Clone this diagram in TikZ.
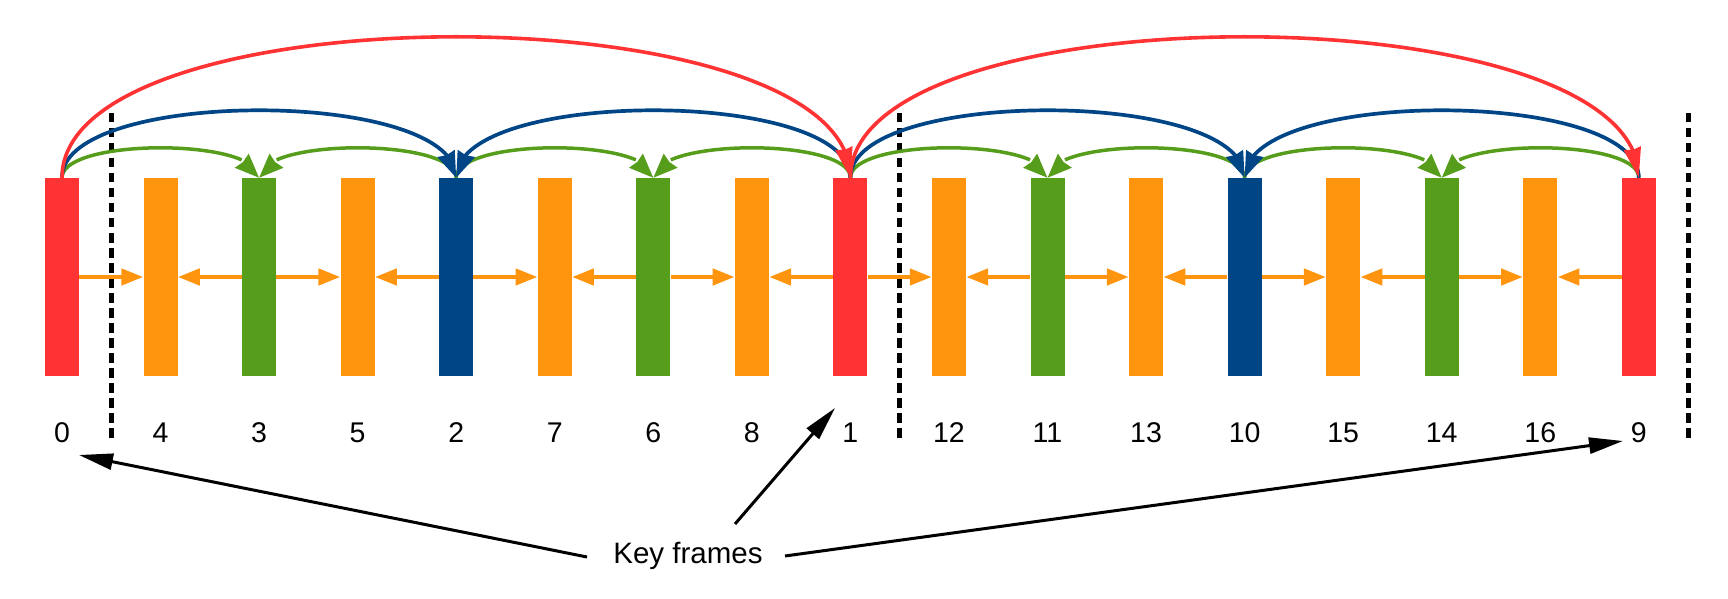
\documentclass[tikz,border=0pt]{standalone}
\usepackage{fontspec}
\setmainfont{Liberation Sans}
\usetikzlibrary{arrows.meta,bending,calc}
\definecolor{kred}{HTML}{FF3333}
\definecolor{korange}{HTML}{FF950E}
\definecolor{kgreen}{HTML}{579D1C}
\definecolor{kblue}{HTML}{004586}
\newcommand\kcurve[4]{\draw[#1] (f#2.north) .. controls ($(f#2.north)+(0,#4)$) and ($(f#3.north)+(0,#4)$) .. (f#3.north);}
\begin{document}
\begin{tikzpicture}[x=1pt,y=1pt,
  bar/.style={rectangle,draw=none,inner sep=0pt,minimum width=34pt,minimum height=198pt},
  lab/.style={inner sep=0pt,anchor=base,font=\fontsize{28.5}{34}\selectfont},
  keylab/.style={inner sep=0pt,font=\fontsize{29.5}{35}\selectfont},
  redc/.style={draw=kred,line width=3.6pt,-{Stealth[length=30pt,width=17pt,inset=1.5pt]}},
  bluec/.style={draw=kblue,line width=3.7pt,-{Stealth[length=26pt,width=18pt,inset=1.5pt]}},
  greenc/.style={draw=kgreen,line width=3.5pt,-{Stealth[length=24pt,width=19pt,inset=1.5pt]}},
  oarr/.style={draw=korange,line width=4.5pt,-{Triangle[length=22pt,width=16pt]}},
  karr/.style={draw=black,line width=3pt,-{Triangle[length=34pt,width=16pt]}},
  sep/.style={draw=black,line width=5pt,dash pattern=on 9.5pt off 5.5pt}]
\useasboundingbox (0,0) rectangle (1728,598);
% frames
\foreach \lab/\col [count=\i from 0] in {0/kred,4/korange,3/kgreen,5/korange,2/kblue,7/korange,6/kgreen,8/korange,1/kred,12/korange,11/kgreen,13/korange,10/kblue,15/korange,14/kgreen,16/korange,9/kred}{
  \node[bar,fill=\col] (f\i) at ({62+98.55*\i},321) {};
  \node[lab] (l\i) at ({62+98.55*\i},156) {\lab};
}
% separators
\coordinate (d1a) at (111,485); \coordinate (d1b) at (111,159);
\coordinate (d2a) at (899,485); \coordinate (d2b) at (899,159);
\coordinate (d3a) at (1688,485); \coordinate (d3b) at (1688,159);
\draw[sep] (d1a) -- (d1b);
\draw[sep] (d2a) -- (d2b);
\draw[sep] (d3a) -- (d3b);
% orange (B-frame) arrows
\foreach \a/\b in {0/1,2/3,4/5,6/7,8/9,10/11,12/13,14/15}{
  \draw[oarr] (f\a.east) -- (f\b.west);
}
\foreach \a/\b in {2/1,4/3,6/5,8/7,10/9,12/11,14/13,16/15}{
  \draw[oarr] (f\a.west) -- (f\b.east);
}
% green
\foreach \a/\b in {0/2,4/2,4/6,8/6,8/10,12/10,12/14,16/14}{
  \kcurve{greenc}{\a}{\b}{40}
}
% blue
\foreach \a/\b in {0/4,8/4,8/12,16/12}{
  \kcurve{bluec}{\a}{\b}{90}
}
% red
\kcurve{redc}{0}{8}{188}
\kcurve{redc}{8}{16}{188}
% key frames annotation
\node[keylab,anchor=base] (kf) at (688,35) {Key frames};
\coordinate (s0) at (587,41);  \coordinate (t0) at (79,143);
\coordinate (s1) at (735,74);  \coordinate (t1) at (835,190);
\coordinate (s9) at (785,42);  \coordinate (t9) at (1623,157);
\draw[karr] (s0) -- (t0);
\draw[karr] (s1) -- (t1);
\draw[karr] (s9) -- (t9);
\end{tikzpicture}
\end{document}
